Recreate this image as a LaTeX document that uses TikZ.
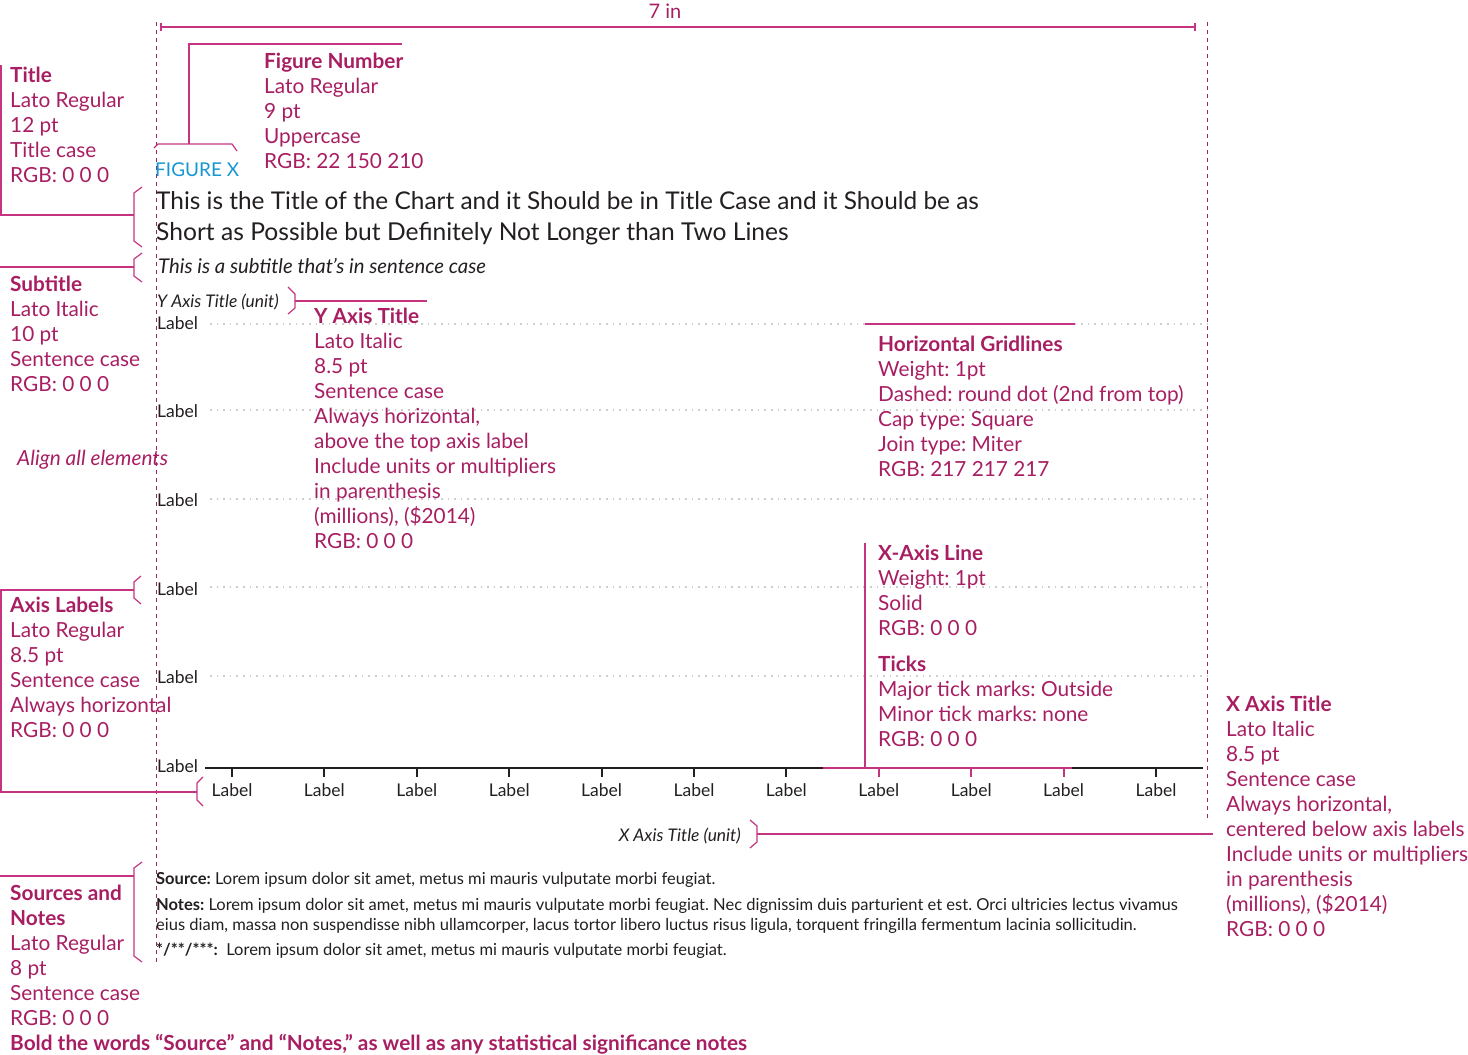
\documentclass[tikz,border=0pt]{standalone}
\usepackage{fontspec}
\setmainfont{Lato}
\frenchspacing
\definecolor{annot}{RGB}{168,30,98}
\definecolor{annline}{RGB}{196,52,128}
\definecolor{ink}{RGB}{35,31,32}
\definecolor{gridc}{RGB}{205,205,205}
\definecolor{figblue}{RGB}{22,150,210}
\begin{document}
\begin{tikzpicture}[x=1pt,y=-1pt,
  ann/.style={anchor=north west, inner sep=0pt, align=left, text=annot,
    font=\fontsize{20.8}{25}\selectfont, execute at begin node={\rule{0pt}{18pt}}},
  one/.style={anchor=base west, inner sep=0pt},
  lbl/.style={inner sep=0pt, text=ink, font=\fontsize{17.5}{20}\selectfont},
  src/.style={anchor=base west, inner sep=0pt, text=ink, font=\fontsize{16.5}{20}\selectfont},
  brk/.style={draw=annline, line width=1.2pt},
  lead/.style={draw=annline, line width=1.2pt},
  guide/.style={draw=annot, line width=1pt, dash pattern=on 4pt off 4pt},
  gridln/.style={draw=gridc, line width=1.6pt, dash pattern=on 1.6pt off 5pt},
  axisln/.style={draw=ink, line width=2pt},
  hiln/.style={draw=annline, line width=2pt},
]
\useasboundingbox (0,0) rectangle (1468,1055);

% guides
\draw[guide] (156,22) -- (156,962);
\draw[guide] (1207,22) -- (1207,818);

% dimension
\coordinate (dimL) at (161,27);
\coordinate (dimR) at (1195,27);
\draw[lead] (dimL) -- (dimR);
\draw[lead] ([yshift=-4pt]dimL) -- ([yshift=4pt]dimL);
\draw[lead] ([yshift=-4pt]dimR) -- ([yshift=4pt]dimR);
\node[anchor=base, inner sep=0pt, text=annot, font=\fontsize{20}{24}\selectfont] (dimtxt) at (665,18) {7 in};

% gridlines
\foreach \gy in {324,410,499,587,676} { \draw[gridln] (210,\gy) -- (1207,\gy); }

% chart texts
\node[one, text=figblue, font=\fontsize{19}{22}\selectfont] (fig) at (155,176) {FIGURE X};
\node[one, text=ink, font=\fontsize{24.4}{30}\selectfont] (title1) at (156,209) {This is the Title of the Chart and it Should be in Title Case and it Should be as};
\node[one, text=ink, font=\fontsize{24.6}{30}\selectfont] (title2) at (156,240) {Short as Possible but Definitely Not Longer than Two Lines};
\node[one, text=ink, font=\fontsize{20.3}{22}\selectfont\itshape] (subt) at (158,273) {This is a subtitle that’s in sentence case};
\node[one, text=ink, font=\fontsize{17.4}{20}\selectfont\itshape] (ytitle) at (157,307) {Y Axis Title (unit)};
\foreach \ly [count=\i] in {329,417,506,595,683,772} { \node[lbl, anchor=base west] (yl\i) at (157,\ly) {Label}; }

% x axis
\coordinate (axL) at (205,768);
\coordinate (axR) at (1203,768);
\draw[axisln] (axL) -- (axR);
\draw[hiln] (823,768) -- (1072,768);
\foreach \i in {0,...,10} {
  \pgfmathsetmacro\tx{232+92.4*\i}
  \ifnum\i>6 \ifnum\i<10 \def\tc{annline}\else\def\tc{ink}\fi \else \def\tc{ink}\fi
  \draw[draw=\tc, line width=2pt] (\tx,768) -- (\tx,777);
  \node[lbl, anchor=base] (xl\i) at (\tx,796) {Label};
}
\node[anchor=base east, inner sep=0pt, text=ink, font=\fontsize{17.4}{20}\selectfont\itshape] (xtitle) at (741,841) {X Axis Title (unit)};

% sources
\node[src] (s1) at (156,884) {\textbf{Source:} Lorem ipsum dolor sit amet, metus mi mauris vulputate morbi feugiat.};
\node[src] (s2) at (156,910) {\textbf{Notes:} Lorem ipsum dolor sit amet, metus mi mauris vulputate morbi feugiat. Nec dignissim duis parturient et est. Orci ultricies lectus vivamus};
\node[src] (s3) at (156,930) {eius diam, massa non suspendisse nibh ullamcorper, lacus tortor libero luctus risus ligula, torquent fringilla fermentum lacinia sollicitudin.};
\node[src] (s4) at (156,955) {\textbf{*/**/***:}\ \ Lorem ipsum dolor sit amet, metus mi mauris vulputate morbi feugiat.};

% annotations
\node[ann] (aTitle) at (10,67) {\textbf{Title}\\Lato Regular\\12 pt\\Title case\\RGB: 0 0 0};
\node[ann] (aFig) at (264,53) {\textbf{Figure Number}\\Lato Regular\\9 pt\\Uppercase\\RGB: 22 150 210};
\node[ann] (aSub) at (10,276) {\textbf{Subtitle}\\Lato Italic\\10 pt\\Sentence case\\RGB: 0 0 0};
\node[ann] (aY) at (314,308) {\textbf{Y Axis Title}\\Lato Italic\\8.5 pt\\Sentence case\\Always horizontal,\\above the top axis label\\Include units or multipliers\\in parenthesis\\(millions), (\$2014)\\RGB: 0 0 0};
\node[ann] (aAlign) at (17,447) {\textit{Align all elements}};
\node[ann] (aGrid) at (878,336) {\textbf{Horizontal Gridlines}\\Weight: 1pt\\Dashed: round dot (2nd from top)\\Cap type: Square\\Join type: Miter\\RGB: 217 217 217};
\node[ann] (aAx) at (878,545) {\textbf{X-Axis Line}\\Weight: 1pt\\Solid\\RGB: 0 0 0};
\node[ann] (aTicks) at (878,656) {\textbf{Ticks}\\Major tick marks: Outside\\Minor tick marks: none\\RGB: 0 0 0};
\node[ann] (aLab) at (10,597) {\textbf{Axis Labels}\\Lato Regular\\8.5 pt\\Sentence case\\Always horizontal\\RGB: 0 0 0};
\node[ann] (aX) at (1226,696) {\textbf{X Axis Title}\\Lato Italic\\8.5 pt\\Sentence case\\Always horizontal,\\centered below axis labels\\Include units or multipliers\\in parenthesis\\(millions), (\$2014)\\RGB: 0 0 0};
\node[ann] (aSrc) at (10,885) {\textbf{Sources and}\\\textbf{Notes}\\Lato Regular\\8 pt\\Sentence case\\RGB: 0 0 0\\\textbf{Bold the words “Source” and “Notes,” as well as any statistical significance notes}};

% brackets and leaders
\draw[brk] (142,187) -- (134,193) -- (134,241) -- (142,247);
\draw[lead] (1,65) |- (134,215);
\draw[brk] (142,253) -- (134,259) -- (134,276) -- (142,282);
\draw[lead] (0,267) -- (134,267);
\draw[brk] (154,148) -- (158,144) -- (232,144) -- (237,151);
\draw[lead] (189,144) |- (402,44);
\draw[brk] (288,287) -- (295,294) -- (295,308) -- (288,314);
\draw[lead] (295,301) -- (427,301);
\draw[lead] (865,324) -- (1075,324);
\draw[lead] (865,543) -- (865,768);
\draw[brk] (141,576) -- (134,582) -- (134,598) -- (141,604);
\draw[lead] (0,590) -- (134,590);
\draw[lead] (1,590) |- (197,792);
\draw[brk] (203,777) -- (197,783) -- (197,800) -- (203,806);
\draw[brk] (750,820) -- (757,826) -- (757,842) -- (750,848);
\draw[lead] (757,834) -- (1213,834);
\draw[brk] (142,862) -- (134,868) -- (134,956) -- (142,962);
\draw[lead] (0,876) -- (134,876);
\end{tikzpicture}
\end{document}
